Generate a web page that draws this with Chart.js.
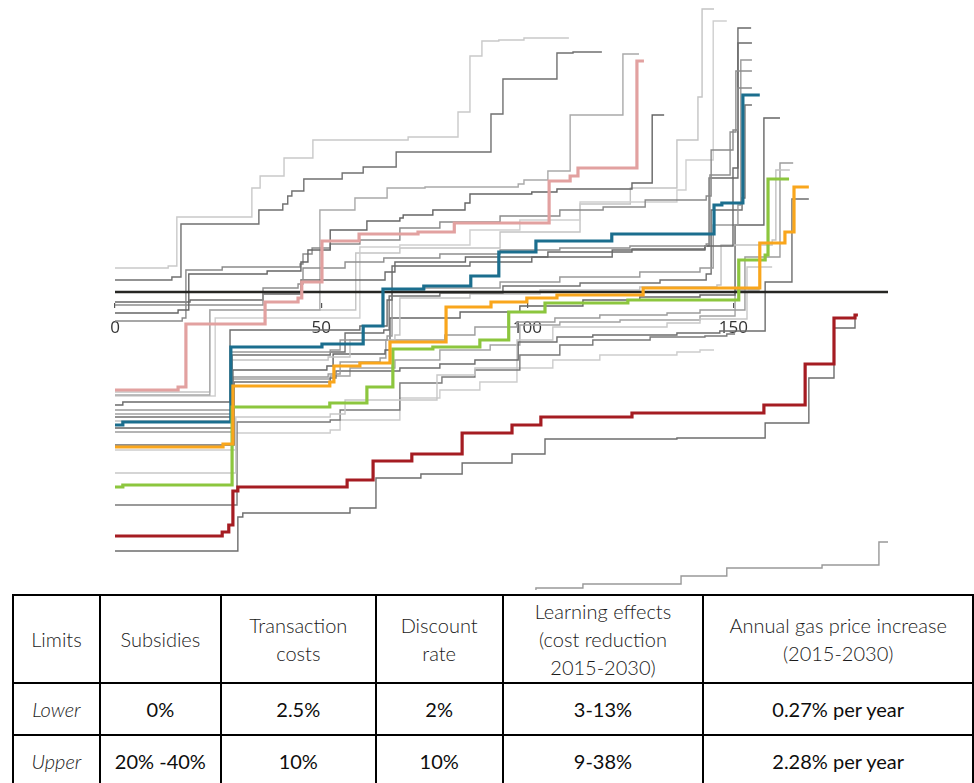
<!DOCTYPE html>
<html>
<head>
<meta charset="utf-8">
<script src="https://cdn.jsdelivr.net/npm/chart.js@4.4.1/dist/chart.umd.min.js"></script>
<style>
  html, body { margin: 0; padding: 0; background: #fff; }
  #plot { position: absolute; left: 0; top: 0; width: 974px; height: 592px; }
  #limits {
    position: absolute; left: 12px; top: 594px;
    border-collapse: collapse; table-layout: fixed;
    font-family: Lato, "Open Sans", sans-serif; font-size: 20px; color: #1a1a1a;
  }
  #limits td { border: 2px solid #000; text-align: center; vertical-align: middle; padding: 0; }
  #limits tr.head td { height: 86px; font-weight: 300; line-height: 28px; }
  #limits tr.val td { height: 50px; font-weight: 400; color: #0d0d0d; }
  #limits tr.val td.lbl { font-style: italic; font-weight: 300; color: #1a1a1a; }
</style>
</head>
<body>
<div id="plot"><canvas id="c" width="974" height="592"></canvas></div>
<table id="limits"></table>
<script>
// x axis ticks (cumulative abatement)
const xTicks = [0, 50, 100, 150];

// zero-cost reference line
const zeroX = [0, 187.5];
const zeroY = [0, 0];

// highlighted cost curves: step positions (x) and cost level after each step (y)
const pinkX   = [0, 15.3, 17.2, 36.4, 44.4, 45.3, 50.2, 59.2, 73.5, 82.3, 105.3, 110.4, 112.3, 126.6, 128.3];
const pinkY   = [-98, -95, -32, -10, -6, 10, 51, 58, 60, 69, 111, 116, 124, 231, 231];
const blueX   = [0, 1.9, 28.1, 50.2, 60.2, 65.0, 74.9, 86.3, 93.1, 102.1, 120.5, 145.3, 147.2, 152.3, 156.4];
const blueY   = [-133, -130, -55, -52, -34, 3, 6, 16, 40, 51, 58, 87, 89, 197, 197];
const orangeX = [0, 26.2, 28.6, 52.1, 53.1, 59.4, 66.7, 80.3, 91.2, 99.9, 107.2, 128.1, 156.4, 162.5, 164.7, 168.3];
const orangeY = [-155, -152, -94, -90, -74, -71, -50, -15, -10, -6, -3, 4, 49, 60, 105, 105];
const greenX  = [0, 1.9, 28.4, 52.1, 61.1, 67.4, 77.1, 88.5, 95.5, 104.3, 124.4, 151.3, 157.7, 158.4, 163.5];
const greenY  = [-195, -193, -115, -111, -95, -57, -55, -48, -20, -11, -8, 32, 37, 113, 113];
const redX    = [0, 26.0, 27.6, 28.6, 29.8, 56.3, 62.6, 72.0, 84.2, 96.3, 103.3, 125.4, 157.4, 167.4, 174.4, 179.5, 180.2];
const redY    = [-244, -240, -233, -199, -195, -188, -169, -162, -141, -133, -125, -121, -113, -72, -26, -23, -23];

// sensitivity runs (grey curves)
const g1X = [0, 12.9, 15.0, 33.2, 35.2, 41.0, 48.0, 71.1, 83.2, 86.1, 89.0, 93.1, 99.2, 110.1];
const g1Y = [24, 26, 75, 104, 116, 134, 152, 155, 180, 236, 251, 252, 254, 254];
const g2X = [0, 13.8, 16.0, 34.9, 40.7, 41.9, 42.9, 45.8, 55.1, 60.2, 68.2, 91.2, 94.1, 107.2, 111.1, 118.1];
const g2Y = [12, 15, 68, 82, 88, 96, 101, 113, 119, 125, 140, 178, 213, 239, 240, 240];
const g3X = [0, 15.3, 17.9, 36.9, 45.1, 46.8, 52.2, 61.1, 69.1, 69.9, 77.1, 84.9, 86.1, 101.1, 107.2, 125.4, 130.3, 133.2];
const g3Y = [-21, -18, 18, 21, 30, 42, 62, 71, 74, 77, 82, 89, 98, 100, 103, 109, 177, 177];
const g4X = [0, 16.3, 17.2, 26.0, 44.9, 45.6, 47.8, 52.2, 59.4, 69.1, 78.8, 93.4, 107.9, 118.4, 128.6, 143.4, 144.6, 149.9, 151.1, 154.5];
const g4Y = [-29, -26, 22, 25, 28, 38, 44, 48, 52, 64, 70, 76, 82, 85, 92, 96, 142, 162, 204, 204];
const g5X = [0, 35.9, 44.4, 45.6, 55.8, 65.2, 78.8, 93.4, 107.9, 124.9, 143.4, 144.3, 149.2, 150.6, 154.5];
const g5Y = [-13, 4, 8, 24, 30, 34, 38, 42, 44, 46, 48, 117, 160, 221, 221];
const g6X = [0, 18.2, 35.9, 45.1, 65.5, 67.9, 85.0, 105.0, 125.4, 143.1, 149.9, 151.1, 154.3];
const g6Y = [-10, -8, -2, 12, 20, 30, 35, 40, 43, 46, 114, 264, 264];
const l1X = [0, 23.0, 49.7, 58.2, 66.0, 75.2, 97.8, 99.2, 105.0, 110.4, 123.2, 127.1];
const l1Y = [-103, -18, 82, 94, 104, 105, 108, 112, 121, 177, 238, 238];
const u1X = [0, 24.3, 59.4, 69.1, 86.1, 98.2, 112.8, 136.3, 138.5, 145.1, 148.4];
const u1Y = [-104, -26, 45, 47, 62, 72, 90, 102, 132, 271, 271];
const u2X = [0, 23.0, 58.4, 69.1, 93.4, 112.8, 125.0, 136.3, 141.4, 142.4, 145.3];
const u2Y = [-100, -18, 39, 44, 60, 88, 104, 152, 195, 283, 283];
const m1X = [0, 1.9, 27.9, 59.4, 66.0, 67.2, 86.1, 101.1, 120.6, 143.1, 144.1, 149.9, 151.1, 154.5];
const m1Y = [-113, -110, -38, -34, -8, 26, 30, 35, 42, 46, 114, 124, 249, 249];
const m2X = [0, 28.1, 52.2, 54.6, 66.0, 67.2, 75.0, 93.4, 107.9, 127.3, 141.9, 145.1, 151.1, 151.8, 154.5];
const m2Y = [-118, -60, -58, -48, -44, 2, 4, 10, 15, 20, 24, 67, 87, 232, 232];
const m3X = [0, 28.4, 52.2, 55.8, 65.2, 66.5, 78.8, 94.1, 112.8, 132.2, 143.4, 144.6, 152.1, 152.8, 154.5];
const m3Y = [-125, -63, -60, -41, -38, -4, -1, 6, 9, 12, 18, 82, 94, 187, 187];
const m4X = [0, 28.4, 51.7, 57.0, 67.9, 69.1, 86.1, 103.1, 127.3, 146.0, 147.0, 159.4, 160.3, 163.7];
const m4Y = [-129, -68, -65, -48, -43, -6, -2, 2, 5, 7, 47, 52, 122, 122];
const m5X = [0, 28.6, 51.4, 52.9, 65.5, 66.7, 83.7, 98.2, 113.5, 127.3, 141.9, 150.4, 157.4, 161.3];
const m5Y = [-136, -78, -74, -62, -58, -26, -20, -14, -8, -5, -3, 67, 174, 174];
const m6X = [0, 28.6, 51.7, 54.6, 64.3, 65.7, 80.0, 87.3, 97.5, 106.7, 117.6, 133.9, 141.9, 152.8, 161.3, 164.5];
const m6Y = [-140, -85, -82, -70, -66, -48, -43, -35, -30, -26, -23, -21, -18, 35, 129, 129];
const m7X = [0, 28.9, 52.2, 53.6, 69.1, 78.8, 87.3, 97.8, 107.2, 115.9, 136.3, 146.7, 157.7, 164.2, 168.3];
const m7Y = [-153, -90, -86, -79, -76, -72, -68, -50, -45, -43, -41, -39, 10, 93, 93];
const m8X = [0, 29.3, 52.2, 55.8, 78.1, 87.3, 97.5, 106.2, 133.9, 141.9, 153.3, 159.4];
const m8Y = [-181, -125, -122, -108, -83, -76, -48, -35, -31, -27, 25, 25];
const m9X = [0, 29.6, 52.2, 54.6, 69.1, 79.3, 87.3, 98.2, 107.9, 115.9, 129.8, 143.1, 148.4, 150.4];
const m9Y = [-213, -130, -128, -118, -91, -85, -78, -63, -53, -48, -45, -44, -42, -42];
const m10X = [0, 29.3, 52.2, 54.6, 69.1, 78.8, 88.5, 97.5, 106.2, 117.6, 136.3, 141.9, 145.3];
const m10Y = [-158, -141, -138, -128, -106, -98, -90, -76, -68, -63, -60, -58, -58];
const m11X = [0, 28.4, 52.2, 57.0, 67.9, 78.8, 91.0, 98.2, 107.9, 122.5, 141.9, 150.4, 156.4];
const m11Y = [-122, -87, -84, -76, -68, -58, -53, -33, -30, -28, -24, 2, 2];
const r2X = [0, 29.8, 31.0, 57.0, 63.3, 74.2, 84.2, 96.3, 104.3, 136.3, 157.7, 168.3, 174.4, 179.5];
const r2Y = [-259, -225, -221, -216, -186, -182, -171, -162, -147, -146, -131, -86, -36, -26];
const bX = [0, 102.1, 113.5, 137.3, 148.4, 171.5, 185.3, 187.5];
const bY = [-330, -296, -292, -284, -276, -273, -250, -250];

// table contents
const tableHead = [
  ['Limits'], ['Subsidies'], ['Transaction', 'costs'], ['Discount', 'rate'],
  ['Learning effects', '(cost reduction', '2015-2030)'], ['Annual gas price increase', '(2015-2030)']
];
const lowerRow = ['Lower', '0%', '2.5%', '2%', '3-13%', '0.27% per year'];
const upperRow = ['Upper', '20% -40%', '10%', '10%', '9-38%', '2.28% per year'];
const colWidths = [87, 121, 155, 127, 201, 270];

function pts(xs, ys) { return xs.map((x, i) => ({ x: x, y: ys[i] })); }
function curve(xs, ys, color, width) {
  return {
    data: pts(xs, ys), borderColor: color, borderWidth: width,
    stepped: 'before', pointRadius: 0, fill: false, tension: 0,
    borderJoinStyle: 'miter', borderCapStyle: 'butt'
  };
}

// first entries are painted last (on top)
const datasets = [
  curve(redX, redY, '#a51c22', 3.2),
  curve(orangeX, orangeY, '#f9a61c', 3.2),
  curve(greenX, greenY, '#8cc63e', 3.2),
  curve(blueX, blueY, '#1b6e8e', 3.2),
  curve(pinkX, pinkY, '#e2a1a0', 3.2),
  curve(zeroX, zeroY, '#262623', 2.4),
  curve(r2X, r2Y, '#6d6d6d', 1.4),
  curve(bX, bY, '#999999', 1.4),
  curve(g1X, g1Y, '#c9c9c9', 1.4),
  curve(g2X, g2Y, '#707070', 1.4),
  curve(g3X, g3Y, '#656565', 1.4),
  curve(g4X, g4Y, '#8a8a8a', 1.4),
  curve(g5X, g5Y, '#8f8f8f', 1.4),
  curve(g6X, g6Y, '#6a6a6a', 1.4),
  curve(l1X, l1Y, '#a9a9a9', 1.4),
  curve(u1X, u1Y, '#cfcfcf', 1.4),
  curve(u2X, u2Y, '#c4c4c4', 1.4),
  curve(m1X, m1Y, '#6b6b6b', 1.4),
  curve(m2X, m2Y, '#999999', 1.4),
  curve(m3X, m3Y, '#707070', 1.4),
  curve(m4X, m4Y, '#c2c2c2', 1.4),
  curve(m5X, m5Y, '#666666', 1.4),
  curve(m6X, m6Y, '#9c9c9c', 1.4),
  curve(m7X, m7Y, '#6e6e6e', 1.4),
  curve(m8X, m8Y, '#c8c8c8', 1.4),
  curve(m9X, m9Y, '#7a7a7a', 1.4),
  curve(m10X, m10Y, '#cdcdcd', 1.4),
  curve(m11X, m11Y, '#a3a3a3', 1.4)
];

new Chart(document.getElementById('c'), {
  type: 'line',
  data: { datasets: datasets },
  options: {
    responsive: false,
    animation: false,
    devicePixelRatio: 1,
    layout: { padding: { left: 115, right: 86, top: 0, bottom: 2 } },
    plugins: { legend: { display: false }, tooltip: { enabled: false } },
    scales: {
      x: {
        type: 'linear', min: 0, max: 187.5,
        position: { y: -11 },
        afterFit: function (s) { s.height = 0; },
        afterBuildTicks: function (s) { s.ticks = xTicks.map(v => ({ value: v })); },
        border: { display: false },
        grid: { display: true, drawOnChartArea: false, tickLength: 5, color: '#555', lineWidth: 1.2 },
        ticks: { padding: 10, maxRotation: 0, autoSkip: false, color: '#333',
                 font: { family: '"Open Sans", sans-serif', size: 17 } }
      },
      y: { type: 'linear', min: -298, max: 292, display: false }
    }
  }
});

// limits table
(function () {
  const table = document.getElementById('limits');
  const cg = document.createElement('colgroup');
  colWidths.forEach(w => { const c = document.createElement('col'); c.style.width = w + 'px'; cg.appendChild(c); });
  table.appendChild(cg);
  const head = document.createElement('tr');
  head.className = 'head';
  tableHead.forEach(lines => {
    const td = document.createElement('td');
    lines.forEach((t, i) => { if (i) td.appendChild(document.createElement('br')); td.appendChild(document.createTextNode(t)); });
    head.appendChild(td);
  });
  table.appendChild(head);
  [lowerRow, upperRow].forEach(row => {
    const tr = document.createElement('tr');
    tr.className = 'val';
    row.forEach((t, i) => {
      const td = document.createElement('td');
      if (i === 0) td.className = 'lbl';
      td.textContent = t;
      tr.appendChild(td);
    });
    table.appendChild(tr);
  });
})();
</script>
</body>
</html>
